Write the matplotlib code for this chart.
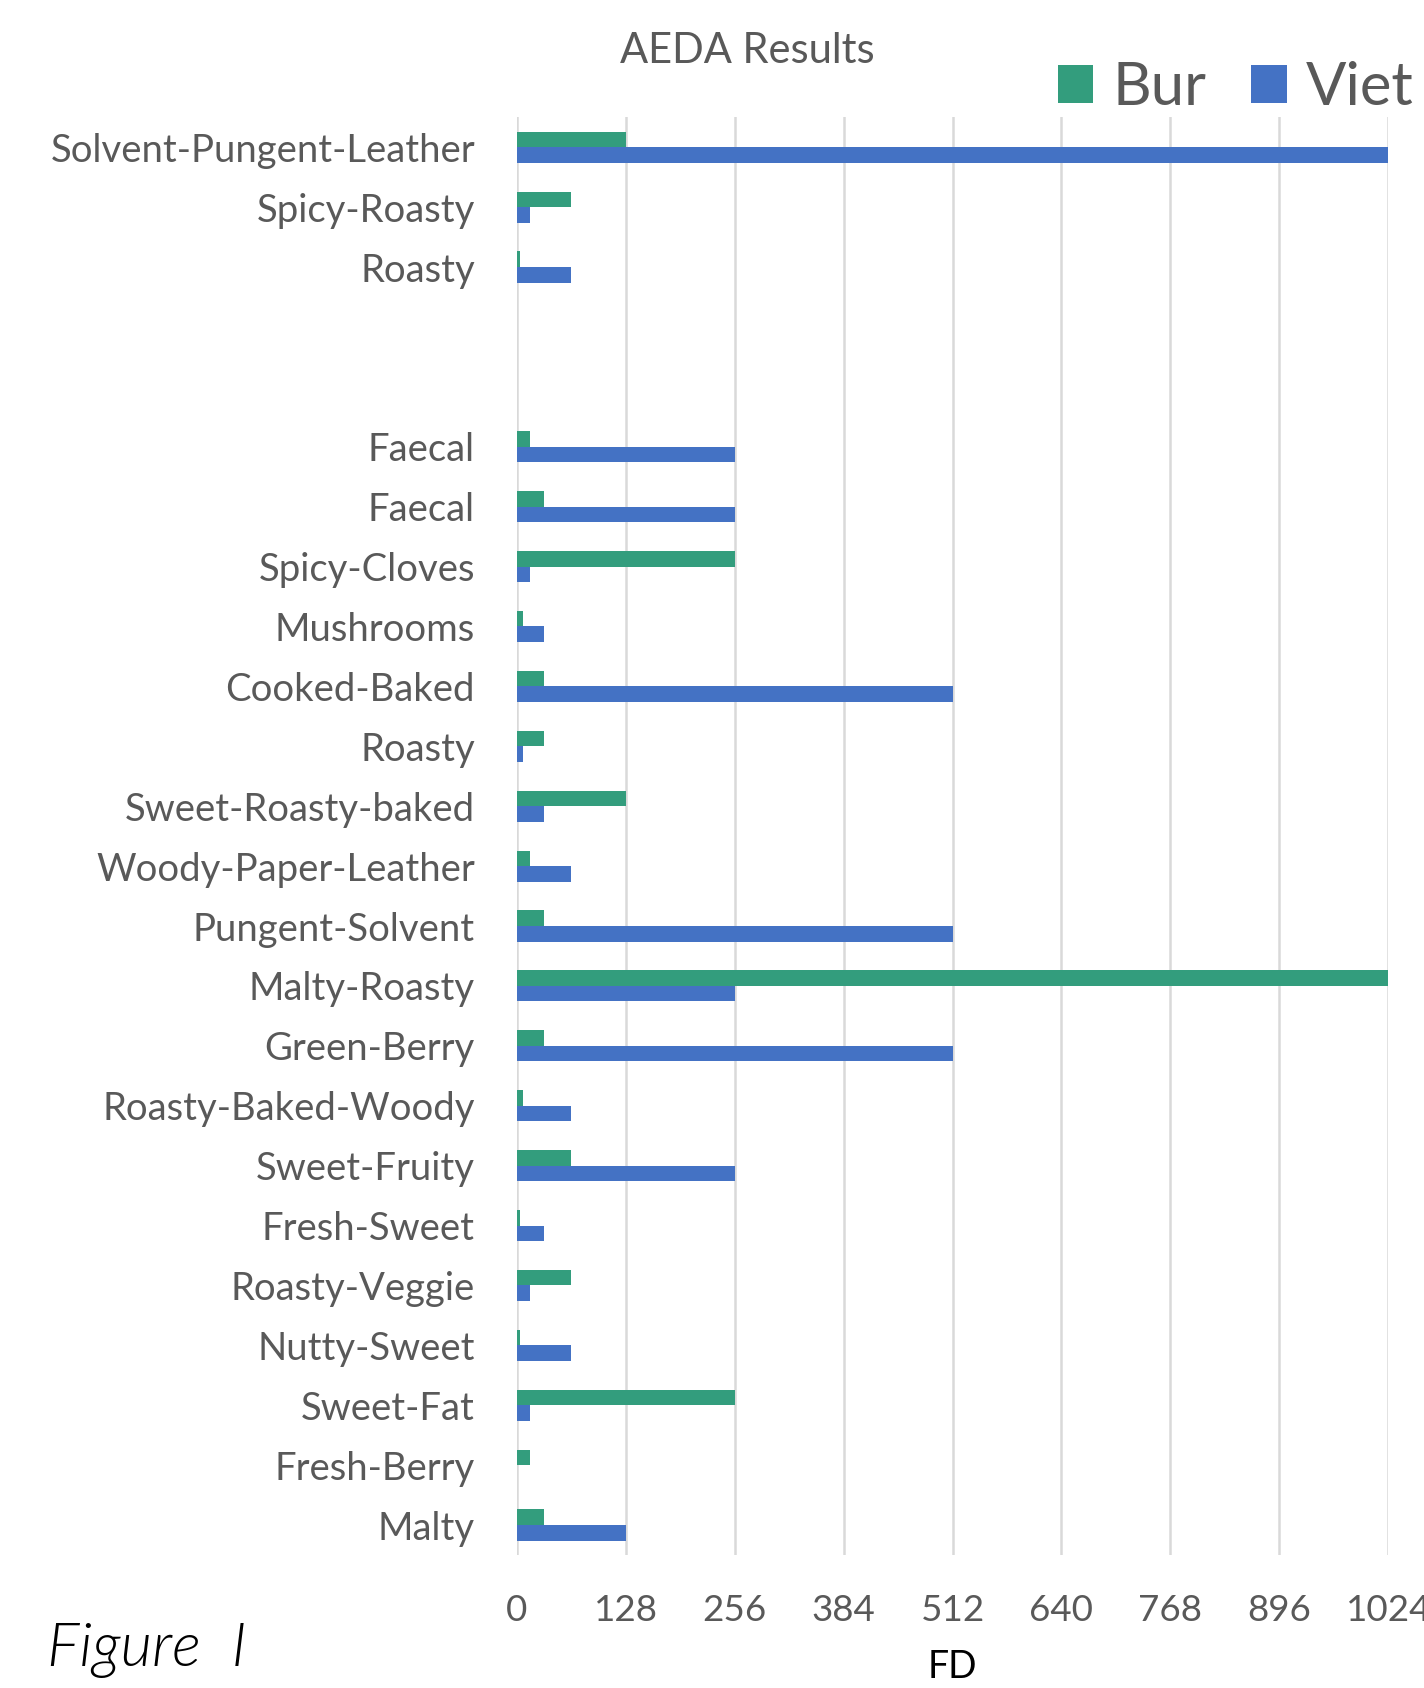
import matplotlib
matplotlib.use("Agg")
import matplotlib.pyplot as plt
import numpy as np

categories = ["Solvent-Pungent-Leather", "Spicy-Roasty", "Roasty", "", "",
              "Faecal", "Faecal", "Spicy-Cloves", "Mushrooms", "Cooked-Baked",
              "Roasty", "Sweet-Roasty-baked", "Woody-Paper-Leather", "Pungent-Solvent",
              "Malty-Roasty", "Green-Berry", "Roasty-Baked-Woody", "Sweet-Fruity",
              "Fresh-Sweet", "Roasty-Veggie", "Nutty-Sweet", "Sweet-Fat",
              "Fresh-Berry", "Malty"]
bur = [128, 64, 4, 0, 0, 16, 32, 256, 8, 32, 32, 128, 16, 32, 1024, 32, 8, 64,
       4, 64, 4, 256, 16, 32]
viet = [1024, 16, 64, 0, 0, 256, 256, 16, 32, 512, 8, 32, 64, 512, 256, 512, 64,
        256, 32, 16, 64, 16, 1, 128]
xticks = [0, 128, 256, 384, 512, 640, 768, 896, 1024]

plt.rcParams['font.family'] = ['Lato', 'DejaVu Sans']

green = '#339D7D'
blue = '#4472C4'
grey = '#595959'

fig = plt.figure(figsize=(14.24, 16.88), dpi=100)
ax = fig.add_axes([0.3628, 0.0788, 0.975 - 0.3628, 0.9305 - 0.0788])

y = np.arange(len(categories))
h = 0.26
ax.barh(y - h / 2, bur, height=h, color=green, label='Bur', zorder=3)
ax.barh(y + h / 2, viet, height=h, color=blue, label='Viet', zorder=3)

ax.set_ylim(len(categories) - 0.5, -0.5)
ax.set_xlim(0, 1024)
ax.set_xticks(xticks)
ax.set_xticklabels([str(t) for t in xticks])
ax.set_yticks(y)
ax.set_yticklabels(categories)
ax.tick_params(axis='y', length=0, pad=30, labelsize=27.5, labelcolor=grey)
ax.tick_params(axis='x', length=0, pad=28, labelsize=26.5, labelcolor=grey)
ax.grid(axis='x', color='#D9D9D9', linewidth=1.8, zorder=0)
for s in ax.spines.values():
    s.set_visible(False)
ax.set_xlabel('FD', fontsize=27, color='black', labelpad=16)

fig.text(0.525, 0.970, 'AEDA Results', ha='center', va='center', fontsize=30, color=grey)
fig.text(0.033, 0.022, 'Figure  I', ha='left', va='center', fontsize=44,
         style='italic', fontweight=300, color='black')

leg = fig.legend(loc='center right', bbox_to_anchor=(0.993, 0.948), ncol=2,
                 frameon=False, fontsize=43, handlelength=0.6, handleheight=0.6,
                 handletextpad=0.32, columnspacing=0.75, borderaxespad=0,
                 borderpad=0, labelcolor=grey)

fig.savefig('out.png', dpi=100)
